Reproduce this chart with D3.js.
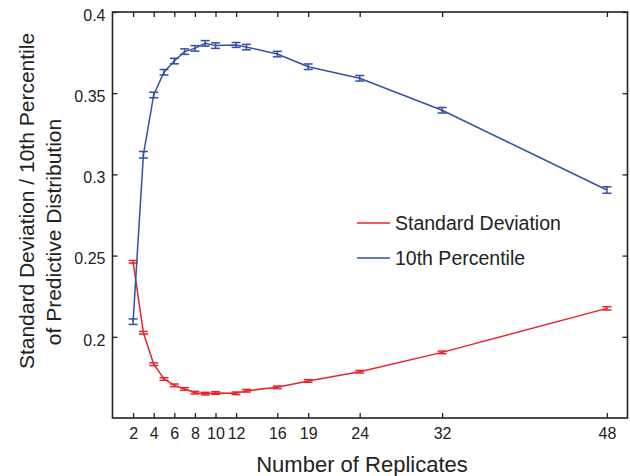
<!DOCTYPE html>
<html>
<head>
<meta charset="utf-8">
<script src="https://cdn.jsdelivr.net/npm/d3@7"></script>
<style>
  html, body { margin: 0; padding: 0; background: #fff; }
  svg { display: block; }
  text { font-family: "Liberation Sans", Arial, Helvetica, sans-serif; fill: #222; }
</style>
</head>
<body>
<svg id="chart" width="630" height="476"></svg>
<script>
// ---- data ----
const replicates = [2, 3, 4, 5, 6, 7, 8, 9, 10, 12, 13, 16, 19, 24, 32, 48];
const stdDev     = [0.2462, 0.2025, 0.1831, 0.1740, 0.1701, 0.1679, 0.1656, 0.1650, 0.1654, 0.1652, 0.1668, 0.1689, 0.1728, 0.1785, 0.1904, 0.2175];
const stdDevErr  = [0.0008, 0.0008, 0.0008, 0.0008, 0.0008, 0.0008, 0.0008, 0.0008, 0.0008, 0.0008, 0.0008, 0.0008, 0.0008, 0.0008, 0.0008, 0.0010];
const pct10      = [0.2093, 0.3121, 0.3489, 0.3629, 0.3698, 0.3756, 0.3776, 0.3807, 0.3793, 0.3797, 0.3784, 0.3741, 0.3663, 0.3592, 0.3395, 0.2904];
const pct10Err   = [0.0017, 0.0020, 0.0017, 0.0017, 0.0017, 0.0017, 0.0017, 0.0017, 0.0017, 0.0015, 0.0017, 0.0017, 0.0017, 0.0017, 0.0017, 0.0020];
const xTicks     = [2, 4, 6, 8, 10, 12, 16, 19, 24, 32, 48];
const yTicks     = [0.2, 0.25, 0.3, 0.35, 0.4];
const seriesNames = ["Standard Deviation", "10th Percentile"];
const xTitle = "Number of Replicates";
const yTitleLines = ["Standard Deviation / 10th Percentile", "of Predictive Distribution"];

// ---- layout ----
const svg = d3.select("#chart");
const mLeft = 112.5, mRight = 627.5, mTop = 12, mBottom = 418;
const x = d3.scaleLinear().domain([0, 50]).range([mLeft, mRight]);
const y = d3.scaleLinear().domain([0.15, 0.4]).range([mBottom, mTop]);
const red = "#e8242c", blue = "#3451a3", ink = "#222";
const tickLen = 5;

// frame
svg.append("rect")
  .attr("x", mLeft).attr("y", mTop)
  .attr("width", mRight - mLeft).attr("height", mBottom - mTop)
  .attr("fill", "none").attr("stroke", ink).attr("stroke-width", 1.6);

// axes with inward ticks
const fmtY = d => String(+d.toFixed(2));
const gx = svg.append("g").attr("transform", `translate(0,${mBottom})`)
  .call(d3.axisBottom(x).tickValues(xTicks).tickSizeInner(-tickLen).tickSizeOuter(0).tickPadding(10));
const gxTop = svg.append("g").attr("transform", `translate(0,${mTop})`)
  .call(d3.axisTop(x).tickValues(xTicks).tickSizeInner(-tickLen).tickSizeOuter(0).tickFormat(""));
const gy = svg.append("g").attr("transform", `translate(${mLeft},0)`)
  .call(d3.axisLeft(y).tickValues(yTicks).tickSizeInner(-tickLen).tickSizeOuter(0).tickPadding(7).tickFormat(fmtY));
const gyR = svg.append("g").attr("transform", `translate(${mRight},0)`)
  .call(d3.axisRight(y).tickValues(yTicks).tickSizeInner(-tickLen).tickSizeOuter(0).tickFormat(""));
[gx, gxTop, gy, gyR].forEach(g => {
  g.select(".domain").remove();
  g.selectAll(".tick line").attr("stroke", ink).attr("stroke-width", 1.3);
  g.selectAll("text").style("font-size", "16px").attr("fill", ink)
    .style("font-family", '"Liberation Sans", Arial, Helvetica, sans-serif');
});
gx.selectAll("text").attr("dy", "0.71em");
gy.selectAll("text").attr("dy", "0.52em");

// series
const line = d3.line().x(d => x(d[0])).y(d => y(d[1]));
const series = [
  { vals: stdDev, err: stdDevErr, color: red },
  { vals: pct10, err: pct10Err, color: blue }
];
series.forEach(s => {
  const pts = replicates.map((r, i) => [r, s.vals[i], s.err[i]]);
  svg.append("path").datum(pts)
    .attr("d", line).attr("fill", "none")
    .attr("stroke", s.color).attr("stroke-width", 1.5);
  const eb = svg.append("g").attr("stroke", s.color).attr("stroke-width", 1.5);
  const cap = 4.5;
  pts.forEach(p => {
    const xc = x(p[0]), y1 = y(p[1] - p[2]), y2 = y(p[1] + p[2]);
    eb.append("line").attr("x1", xc).attr("x2", xc).attr("y1", y1).attr("y2", y2);
    eb.append("line").attr("x1", xc - cap).attr("x2", xc + cap).attr("y1", y1).attr("y2", y1);
    eb.append("line").attr("x1", xc - cap).attr("x2", xc + cap).attr("y1", y2).attr("y2", y2);
  });
});

// legend
const legend = svg.append("g");
[[seriesNames[0], red, 223], [seriesNames[1], blue, 258]].forEach(([name, col, ly]) => {
  legend.append("line").attr("x1", 357).attr("x2", 390).attr("y1", ly).attr("y2", ly)
    .attr("stroke", col).attr("stroke-width", 1.5);
  legend.append("text").attr("x", 395).attr("y", ly + 7)
    .style("font-size", "19.5px").text(name);
});

// axis titles
svg.append("text").attr("x", (mLeft + mRight) / 2 - 8).attr("y", 472)
  .attr("text-anchor", "middle").style("font-size", "22px").text(xTitle);
svg.append("text").attr("transform", "translate(34,201) rotate(-90)")
  .attr("text-anchor", "middle").style("font-size", "21px").text(yTitleLines[0]);
svg.append("text").attr("transform", "translate(61,232) rotate(-90)")
  .attr("text-anchor", "middle").style("font-size", "21px").text(yTitleLines[1]);
</script>
</body>
</html>
